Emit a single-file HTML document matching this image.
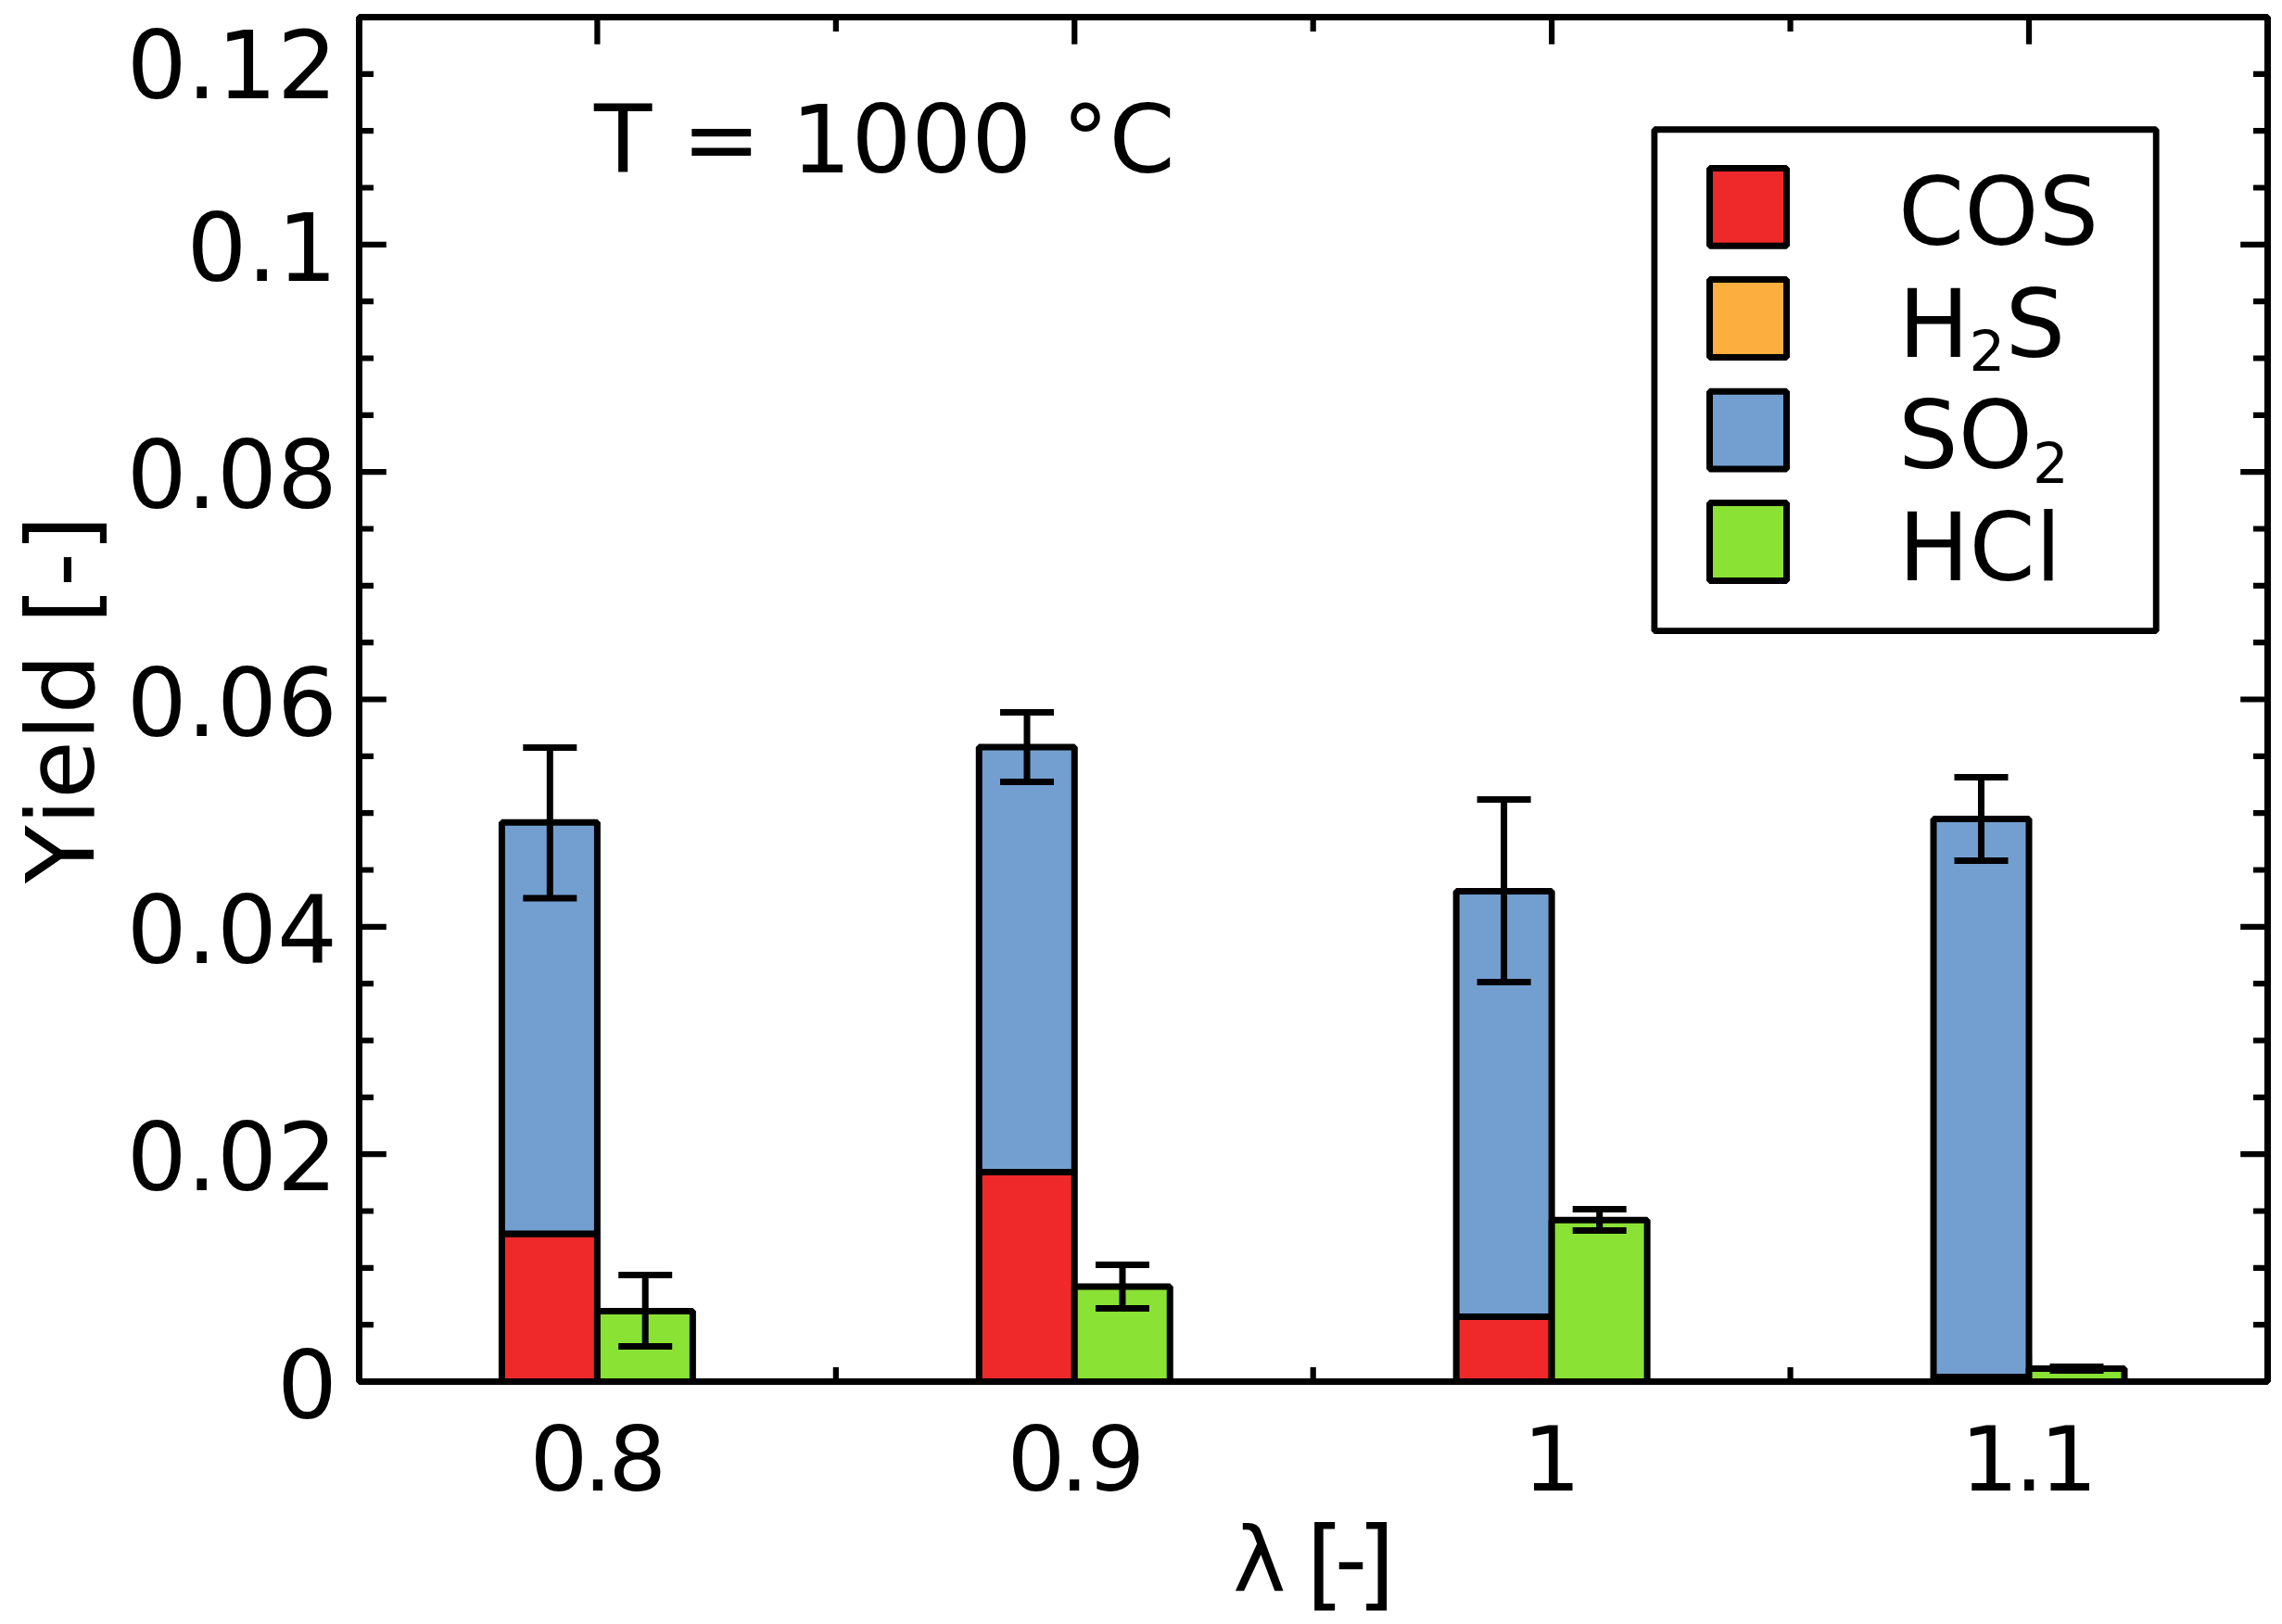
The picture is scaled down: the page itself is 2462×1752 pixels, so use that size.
<!DOCTYPE html>
<html lang="en"><head><meta charset="utf-8"><title>Yield vs λ, T = 1000 °C</title>
<style>html,body{margin:0;padding:0;background:#fff}body{width:2462px;height:1752px;overflow:hidden}svg{display:block}</style>
</head><body>
<svg width="2462" height="1752" viewBox="0 0 2462 1752" font-family='"DejaVu Sans","Liberation Sans",sans-serif' fill="#000">
<rect x="0" y="0" width="2462" height="1752" fill="#fff"/>
<g stroke="#000" stroke-width="6.2" fill="none" stroke-linecap="butt">
<path d="M387.5 1429.17h15.5M2446.5 1429.17h-15.5"/>
<path d="M387.5 1367.83h15.5M2446.5 1367.83h-15.5"/>
<path d="M387.5 1306.50h15.5M2446.5 1306.50h-15.5"/>
<path d="M387.5 1245.17h29.3M2446.5 1245.17h-29.3"/>
<path d="M387.5 1183.83h15.5M2446.5 1183.83h-15.5"/>
<path d="M387.5 1122.50h15.5M2446.5 1122.50h-15.5"/>
<path d="M387.5 1061.17h15.5M2446.5 1061.17h-15.5"/>
<path d="M387.5 999.83h29.3M2446.5 999.83h-29.3"/>
<path d="M387.5 938.50h15.5M2446.5 938.50h-15.5"/>
<path d="M387.5 877.16h15.5M2446.5 877.16h-15.5"/>
<path d="M387.5 815.83h15.5M2446.5 815.83h-15.5"/>
<path d="M387.5 754.50h29.3M2446.5 754.50h-29.3"/>
<path d="M387.5 693.16h15.5M2446.5 693.16h-15.5"/>
<path d="M387.5 631.83h15.5M2446.5 631.83h-15.5"/>
<path d="M387.5 570.50h15.5M2446.5 570.50h-15.5"/>
<path d="M387.5 509.16h29.3M2446.5 509.16h-29.3"/>
<path d="M387.5 447.83h15.5M2446.5 447.83h-15.5"/>
<path d="M387.5 386.50h15.5M2446.5 386.50h-15.5"/>
<path d="M387.5 325.16h15.5M2446.5 325.16h-15.5"/>
<path d="M387.5 263.83h29.3M2446.5 263.83h-29.3"/>
<path d="M387.5 202.50h15.5M2446.5 202.50h-15.5"/>
<path d="M387.5 141.16h15.5M2446.5 141.16h-15.5"/>
<path d="M387.5 79.83h15.5M2446.5 79.83h-15.5"/>
<path d="M644.40 18.5v29.3M644.40 1490.5v-29.3"/>
<path d="M901.84 18.5v15.5M901.84 1490.5v-15.5"/>
<path d="M1159.27 18.5v29.3M1159.27 1490.5v-29.3"/>
<path d="M1416.70 18.5v15.5M1416.70 1490.5v-15.5"/>
<path d="M1674.14 18.5v29.3M1674.14 1490.5v-29.3"/>
<path d="M1931.57 18.5v15.5M1931.57 1490.5v-15.5"/>
<path d="M2189.01 18.5v29.3M2189.01 1490.5v-29.3"/>
</g>
<g stroke="#000" stroke-width="7.0" stroke-linejoin="bevel">
<rect x="541.40" y="1330.90" width="103.0" height="159.60" fill="#EF2929"/>
<rect x="541.40" y="887.30" width="103.0" height="443.60" fill="#729FCF"/>
<rect x="644.40" y="1414.50" width="103.0" height="76.00" fill="#8AE234"/>
<rect x="1056.27" y="1264.50" width="103.0" height="226.00" fill="#EF2929"/>
<rect x="1056.27" y="806.00" width="103.0" height="458.50" fill="#729FCF"/>
<rect x="1159.27" y="1388.00" width="103.0" height="102.50" fill="#8AE234"/>
<rect x="1571.14" y="1420.60" width="103.0" height="69.90" fill="#EF2929"/>
<rect x="1571.14" y="961.50" width="103.0" height="459.10" fill="#729FCF"/>
<rect x="1674.14" y="1316.30" width="103.0" height="174.20" fill="#8AE234"/>
<rect x="2086.01" y="1485.40" width="103.0" height="5.10" fill="#EF2929"/>
<rect x="2086.01" y="883.40" width="103.0" height="602.00" fill="#729FCF"/>
<rect x="2189.01" y="1476.50" width="103.0" height="14.00" fill="#8AE234"/>
</g>
<g stroke="#000" stroke-width="7.0" fill="none" stroke-linecap="butt">
<path d="M593.3 806.5V969.0M564.3 806.5h58.0M564.3 969.0h58.0"/>
<path d="M1108.0 768.4V843.5M1079.0 768.4h58.0M1079.0 843.5h58.0"/>
<path d="M1622.6 862.4V1059.4M1593.6 862.4h58.0M1593.6 1059.4h58.0"/>
<path d="M2137.5 838.4V928.4M2108.5 838.4h58.0M2108.5 928.4h58.0"/>
<path d="M696.2 1375.4V1452.5M667.2 1375.4h58.0M667.2 1452.5h58.0"/>
<path d="M1211.0 1364.5V1411.5M1182.0 1364.5h58.0M1182.0 1411.5h58.0"/>
<path d="M1725.7 1304.5V1327.5M1696.7 1304.5h58.0M1696.7 1327.5h58.0"/>
<path d="M2240.5 1474.4V1478.5M2211.5 1474.4h58.0M2211.5 1478.5h58.0"/>
</g>
<rect x="387.5" y="18.5" width="2059.0" height="1472.0" fill="none" stroke="#000" stroke-width="7.0" stroke-linejoin="bevel"/>
<rect x="1784.9" y="139.75" width="541.2999999999997" height="540.9" fill="#fff" stroke="#000" stroke-width="6.8" stroke-linejoin="bevel"/>
<rect x="1844.5" y="181.5" width="83" height="83.8" fill="#EF2929" stroke="#000" stroke-width="7" stroke-linejoin="bevel"/>
<rect x="1844.5" y="301.6" width="83" height="83.8" fill="#FCAF3E" stroke="#000" stroke-width="7" stroke-linejoin="bevel"/>
<rect x="1844.5" y="422.2" width="83" height="83.8" fill="#729FCF" stroke="#000" stroke-width="7" stroke-linejoin="bevel"/>
<rect x="1844.5" y="542.6" width="83" height="83.8" fill="#8AE234" stroke="#000" stroke-width="7" stroke-linejoin="bevel"/>
<g font-size="102px">
<text x="2048.1" y="263.6">COS</text>
<text x="2047.9" y="384.5">H<tspan font-size="61px" dy="15.8">2</tspan><tspan dy="-15.8">S</tspan></text>
<text x="2047.9" y="505.4">SO<tspan font-size="61px" dy="15.6">2</tspan></text>
<text x="2047.9" y="626.3">HCl</text>
<text x="640.9" y="185.7">T = 1000 °C</text>
<text x="363.8" y="105.6" text-anchor="end">0.12</text>
<text x="363.8" y="303.0" text-anchor="end">0.1</text>
<text x="363.8" y="548.4" text-anchor="end">0.08</text>
<text x="363.8" y="793.7" text-anchor="end">0.06</text>
<text x="363.8" y="1039.0" text-anchor="end">0.04</text>
<text x="363.8" y="1284.4" text-anchor="end">0.02</text>
<text x="363.8" y="1529.5" text-anchor="end">0</text>
<text transform="translate(101.1 952.9) rotate(-90)" x="0" y="0" font-size="102.4px" style="font-kerning:none">Yield [-]</text>
</g>
<text transform="translate(571.48 1607.6) scale(1.03 1)" x="0.00 56.16 82.34" y="0" font-size="96px">0.8</text>
<text transform="translate(1086.38 1607.6) scale(1.03 1)" x="0.00 55.38 83.68" y="0" font-size="96px">0.9</text>
<text transform="translate(1642.74 1607.6) scale(1.03 1)" x="0.00" y="0" font-size="96px">1</text>
<text transform="translate(2115.04 1607.6) scale(1.03 1)" x="0.00 56.69 82.62" y="0" font-size="96px">1.1</text>
<text y="1715.9" font-size="97px"><tspan x="1329.9">λ</tspan><tspan x="1395"> </tspan><tspan x="1408.9" dy="7" font-size="106.4px">[</tspan><tspan x="1440.1" dy="-7">-</tspan><tspan x="1463.7" dy="7" font-size="106.4px">]</tspan></text>
</svg>
</body></html>
